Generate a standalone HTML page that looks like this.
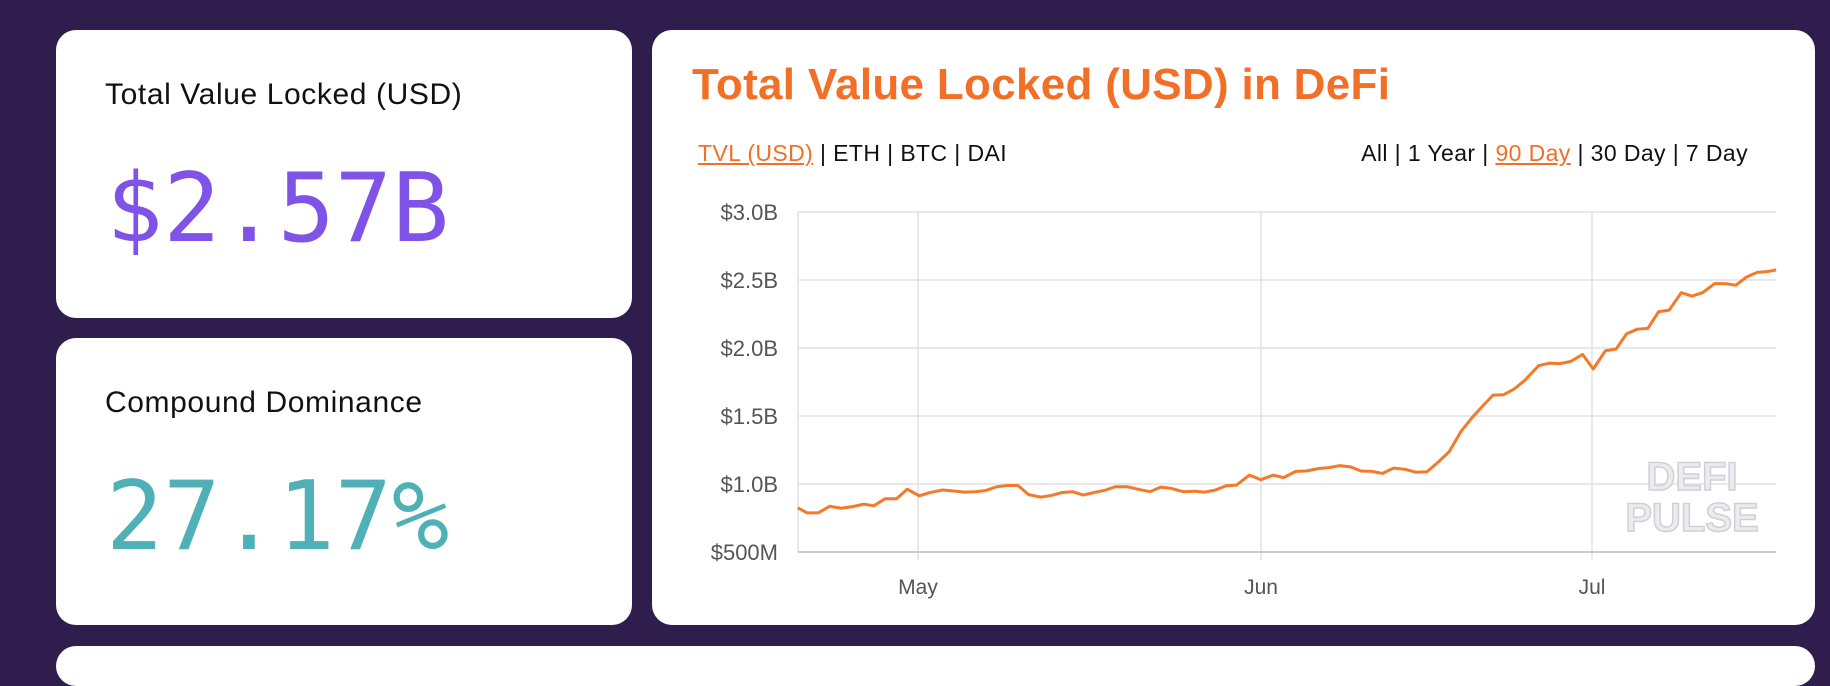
<!DOCTYPE html>
<html><head><meta charset="utf-8"><style>
body{margin:0;width:1830px;height:650px;background:#2e1d4d;position:relative;overflow:hidden;font-family:"Liberation Sans",sans-serif;}
.card{position:absolute;background:#fff;border-radius:20px;}
.lbl{position:absolute;left:49px;font-size:30px;color:#111;white-space:nowrap;letter-spacing:0.6px}
.big{position:absolute;left:50px;font-family:"DejaVu Sans Mono",monospace;font-size:95px;white-space:nowrap;line-height:1}
.t{position:absolute;font-size:23px;color:#111;white-space:nowrap;top:140px;letter-spacing:0.4px}
.t u{color:#f26f27}
</style></head><body>
<div class="card" style="left:56px;top:30px;width:576px;height:288px">
<div class="lbl" style="top:48px">Total Value Locked (USD)</div>
<div class="big" style="top:132px;color:#7f53e8">$2.57B</div>
</div>
<div class="card" style="left:56px;top:338px;width:576px;height:287px">
<div class="lbl" style="top:48px">Compound Dominance</div>
<div class="big" style="top:132px;color:#4fb0b8">27.17%</div>
</div>
<div class="card" style="left:56px;top:646px;width:1759px;height:40px"></div>
<div class="card" style="left:652px;top:30px;width:1163px;height:595px"></div>
<div style="position:absolute;left:692px;top:60px;font-size:44px;font-weight:bold;color:#f26f27;white-space:nowrap;letter-spacing:0.3px">Total Value Locked (USD) in DeFi</div>
<div class="t" style="left:698px"><u>TVL (USD)</u> | ETH | BTC | DAI</div>
<div class="t" style="right:82px">All | 1 Year | <u>90 Day</u> | 30 Day | 7 Day</div>
<svg style="position:absolute;left:0;top:0" width="1830" height="650">
<g stroke="#e2e2e2" stroke-width="1.5">
<line x1="798" y1="212" x2="1776" y2="212"/><line x1="798" y1="280" x2="1776" y2="280"/>
<line x1="798" y1="348" x2="1776" y2="348"/><line x1="798" y1="416" x2="1776" y2="416"/>
<line x1="798" y1="484" x2="1776" y2="484"/>
<line x1="918" y1="212" x2="918" y2="560"/><line x1="1261" y1="212" x2="1261" y2="560"/><line x1="1592" y1="212" x2="1592" y2="560"/>
<line x1="798" y1="212" x2="798" y2="552"/>
</g>
<line x1="798" y1="552" x2="1776" y2="552" stroke="#ccc" stroke-width="2"/>
<g font-size="22" fill="#555" text-anchor="end" font-family="Liberation Sans,sans-serif">
<text x="778" y="220">$3.0B</text><text x="778" y="288">$2.5B</text><text x="778" y="356">$2.0B</text>
<text x="778" y="424">$1.5B</text><text x="778" y="492">$1.0B</text><text x="778" y="560">$500M</text>
</g>
<g font-size="21" fill="#555" text-anchor="middle" font-family="Liberation Sans,sans-serif">
<text x="918" y="594">May</text><text x="1261" y="594">Jun</text><text x="1592" y="594">Jul</text>
</g>
<g font-size="40" font-weight="bold" fill="#ececf0" stroke="#cfcfd6" stroke-width="1.5" text-anchor="middle" font-family="Liberation Sans,sans-serif">
<text x="1692" y="490">DEFI</text><text x="1692" y="531">PULSE</text>
</g>
<g transform="translate(640,0) scale(0.75896,0.41459)">
<polyline fill="none" stroke="#f47a2a" stroke-width="3" vector-effect="non-scaling-stroke" stroke-linejoin="round" points="208,1225 220,1237 235,1237 250,1221 265,1226 280,1222 295,1216 308,1220 323,1203 338,1203 352,1180 368,1196 382,1188 398,1182 412,1184 428,1187 442,1186 456,1183 470,1174 484,1171 498,1171 512,1193 528,1199 542,1195 556,1188 570,1186 584,1194 598,1188 612,1183 626,1174 642,1174 656,1180 672,1186 686,1175 700,1178 716,1186 730,1185 744,1187 758,1182 772,1172 786,1170 803,1146 818,1157 834,1146 848,1152 864,1137 878,1136 894,1130 908,1128 922,1123 936,1126 950,1136 964,1137 978,1142 993,1129 1008,1132 1022,1139 1037,1138 1052,1114 1066,1090 1082,1040 1096,1008 1110,980 1124,953 1138,952 1152,938 1166,917 1184,882 1198,876 1212,877 1226,872 1242,855 1256,890 1272,846 1286,842 1300,805 1314,794 1328,792 1342,752 1356,748 1372,706 1386,714 1400,706 1416,684 1430,684 1444,688 1458,668 1472,657 1486,655 1497,651"/>
</g>
</svg>
</body></html>
